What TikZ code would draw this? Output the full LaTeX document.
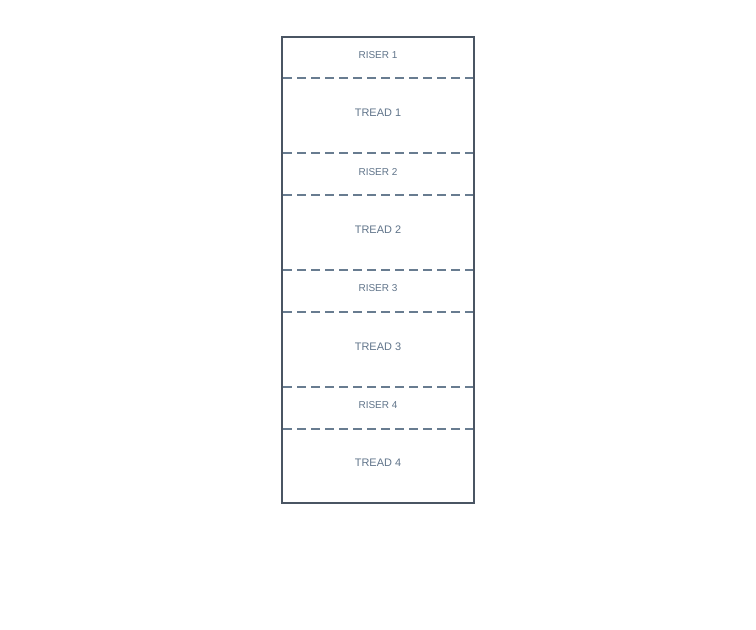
\documentclass[tikz,border=0pt]{standalone}
\usepackage{fontspec}
\setmainfont{Liberation Sans}
\definecolor{bordc}{HTML}{4A5563}
\definecolor{dashc}{HTML}{687C90}
\definecolor{txtc}{HTML}{5F7389}
\begin{document}
\begin{tikzpicture}[x=0.75pt,y=-0.75pt,
  riserlbl/.style={text=txtc,font=\fontsize{7.5}{9}\selectfont,inner sep=0pt},
  treadlbl/.style={text=txtc,font=\fontsize{8.2}{10}\selectfont,inner sep=0pt},
  sep/.style={draw=dashc,line width=0.9pt,dash pattern=on 6.6pt off 3.9pt},
  frame/.style={draw=bordc,line width=1.2pt}]
\useasboundingbox (0,0) rectangle (756,629);
\foreach \y in {78,153,195,270,312,387,429}
  \draw[sep] (283,\y) -- (474,\y);
\draw[frame] (282,37) rectangle (474,503);
\node[riserlbl] (r1) at (378,55.5) {RISER 1};
\node[treadlbl] (t1) at (378,113) {TREAD 1};
\node[riserlbl] (r2) at (378,172.5) {RISER 2};
\node[treadlbl] (t2) at (378,230) {TREAD 2};
\node[riserlbl] (r3) at (378,288.5) {RISER 3};
\node[treadlbl] (t3) at (378,347) {TREAD 3};
\node[riserlbl] (r4) at (378,405.5) {RISER 4};
\node[treadlbl] (t4) at (378,463) {TREAD 4};
\end{tikzpicture}
\end{document}
